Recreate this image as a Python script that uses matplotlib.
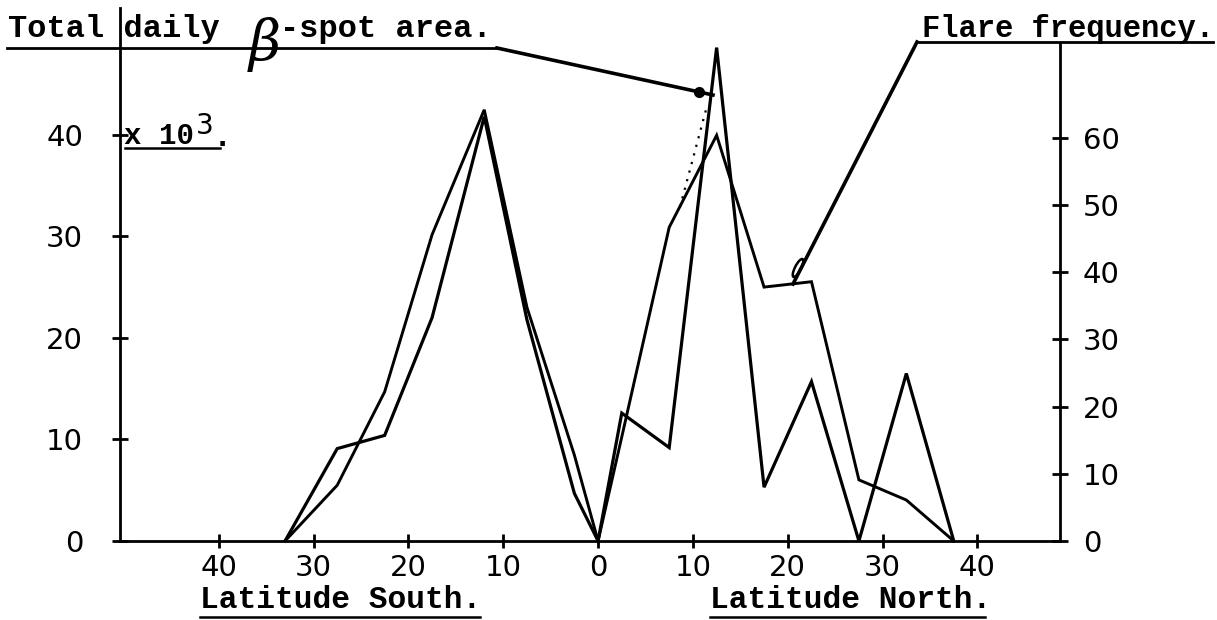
import matplotlib
matplotlib.use("Agg")
import matplotlib.pyplot as plt
from matplotlib.lines import Line2D
from matplotlib.patches import Ellipse
from matplotlib.transforms import Affine2D
from matplotlib.ticker import FixedLocator, FuncFormatter

# Latitude bins in degrees (south negative, north positive)
latitude = [-33, -27.5, -22.5, -17.5, -12, -7.5, -2.5, 0,
            2.5, 7.5, 12.5, 17.5, 22.5, 27.5, 32.5, 37.5]
# Total daily beta-spot area (x 10^3), left scale
spot_area = [0, 9.1, 10.4, 22.0, 41.8, 21.8, 4.7, 0,
             12.6, 9.2, 48.6, 5.3, 15.7, 0, 16.5, 0]
# Flare frequency, right scale
flare_freq = [0, 8.3, 22.2, 45.6, 64.2, 34.8, 12.8, 0,
              15.5, 46.7, 60.4, 37.8, 38.6, 9.1, 6.1, 0]

lat_ticks = [-40, -30, -20, -10, 0, 10, 20, 30, 40]
area_ticks = [0, 10, 20, 30, 40]
freq_ticks = [0, 10, 20, 30, 40, 50, 60]

W, H = 1217, 620
fig = plt.figure(figsize=(W / 100, H / 100), dpi=100)
fig.patch.set_facecolor("white")
# pixel coordinates measured from the top-left corner of the sheet
PX = Affine2D().scale(1 / W, -1 / H).translate(0, 1) + fig.transFigure

MONO = "Liberation Mono"
SANS = "DejaVu Sans"
INK = "black"

ax = fig.add_axes([120 / W, 1 - 541 / H, 940 / W, 533 / H])
ax.set_xlim(-50.4, 48.7)
ax.set_ylim(0, 52.5)
ax2 = ax.twinx()
ax2.set_ylim(0, 79.35)

for a in (ax, ax2):
    a.set_facecolor("none")
    for s in a.spines.values():
        s.set_visible(False)
        s.set_linewidth(2.0)
        s.set_color(INK)
ax.spines["left"].set_visible(True)
ax.spines["bottom"].set_visible(True)
ax2.spines["right"].set_visible(True)
ax2.spines["right"].set_bounds(0, 74.1)

ax.plot(latitude, spot_area, color=INK, lw=2.3, clip_on=False,
        solid_joinstyle="miter")
ax2.plot(latitude, flare_freq, color=INK, lw=2.1, clip_on=False,
         solid_joinstyle="miter")

ax.xaxis.set_major_locator(FixedLocator(lat_ticks))
ax.xaxis.set_major_formatter(FuncFormatter(lambda v, p: f"{abs(v):.0f}"))
ax.yaxis.set_major_locator(FixedLocator(area_ticks))
ax2.yaxis.set_major_locator(FixedLocator(freq_ticks))
ax2.xaxis.set_visible(False)

ax.tick_params(axis="x", direction="inout", length=10, width=2,
               pad=4, labelsize=21, colors=INK)
ax.tick_params(axis="y", direction="inout", length=11, width=2,
               pad=21, labelsize=21, colors=INK)
ax2.tick_params(axis="y", direction="inout", length=11, width=2,
                pad=11, labelsize=21, colors=INK)
for lab in ax.get_xticklabels() + ax.get_yticklabels() + ax2.get_yticklabels():
    lab.set_family(SANS)


def txt(x, y, s, size=23, family=MONO, weight="bold", **kw):
    fig.text(x, y, s, transform=PX, fontsize=size, family=family,
             weight=weight, va="baseline", ha="left", color=INK, **kw)


def seg(xs, ys, lw=2.0, **kw):
    fig.add_artist(Line2D(xs, ys, transform=PX, color=INK, lw=lw, **kw))


# headings
txt(8, 37, "Total daily")
fig.text(265, 44, "\u03b2", transform=PX, fontsize=40, family="DejaVu Serif",
         style="italic", ha="center", va="center", color=INK)
txt(280, 37, "-spot area.")
txt(922, 37, "Flare frequency.", size=22)

# unit note by the left scale
txt(124, 144, "x 10", size=21)
txt(196, 134, "3", size=20, family=SANS, weight="normal")
txt(213, 146, ".", size=23)

# axis captions
txt(200, 608, "Latitude South.", size=22.5)
txt(710, 608, "Latitude North.", size=22.5)

# underlines
seg([7, 497], [48, 48])
seg([917, 1213], [42, 42])
seg([125, 220], [148, 148], lw=1.8)
seg([200, 480], [617, 617], lw=1.8)
seg([710, 985], [617, 617], lw=1.8)

# leader from the spot-area heading to its curve
seg([497, 713], [48, 95], lw=2.6)
seg([699], [92], lw=0, marker="o", markersize=7, markerfacecolor=INK,
    markeredgecolor=INK)
seg([680, 707], [207, 106], lw=1.6, linestyle=(0, (1, 3)))

# leader from the flare heading to its curve
seg([917, 793], [42, 284], lw=2.6)
fig.add_artist(Ellipse((798, 268), width=6, height=20, angle=27,
                       transform=PX, facecolor="white", edgecolor=INK, lw=1.8))

fig.savefig("out.png", dpi=100, facecolor="white")
